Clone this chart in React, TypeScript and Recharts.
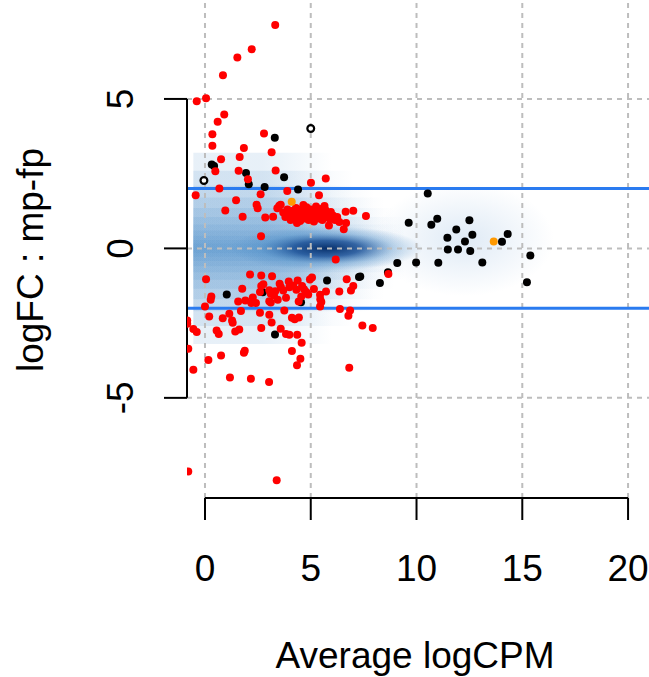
import { ScatterChart, Scatter, XAxis, YAxis, ReferenceLine, ReferenceArea, Label } from 'recharts';

// [Average logCPM, logFC]
const redPoints: [number, number][] = [
  [3.32, 7.47], [2.21, 6.66], [1.53, 6.39], [0.85, 5.79], [0.05, 5.02], [-0.39, 4.92],
  [0.91, 4.48], [0.6, 4.24], [0.35, 3.82], [2.79, 3.84], [0.35, 3.43], [1.84, 3.36],
  [3.15, 3.22], [1.64, 3.06], [0.76, 2.98], [0.49, 2.58], [1.59, 2.6], [3.34, 2.61],
  [2.03, 2.31], [5.01, 2.2], [5.71, 2.34], [0.68, 2.0], [3.89, 1.92], [-0.44, 1.78],
  [2.63, 1.81], [5.39, 1.78], [1.47, 1.61], [2.44, 1.46], [2.49, 1.34], [3.51, 1.43],
  [3.42, 1.34], [0.96, 1.27], [1.78, 1.06], [2.85, 1.03], [3.22, 1.06], [2.65, 0.41],
  [6.65, 1.23], [7.01, 1.26], [7.61, 1.08], [5.86, 0.77], [6.56, 0.64], [6.67, 0.85],
  [3.58, 1.46],
  // dense up cluster
  [3.7, 1.2], [3.8, 1.05], [3.9, 1.3], [4.0, 1.1], [4.05, 0.95], [4.1, 1.25], [4.2, 1.15],
  [4.25, 1.0], [4.3, 1.35], [4.4, 1.2], [4.45, 1.05], [4.5, 0.92], [4.55, 1.3], [4.6, 1.15],
  [4.7, 1.0], [4.75, 1.25], [4.8, 1.38], [4.85, 1.1], [4.9, 0.95], [4.95, 1.2], [5.0, 1.3],
  [5.05, 1.05], [5.1, 1.15], [5.15, 0.9], [5.2, 1.25], [5.25, 1.4], [5.3, 1.1], [5.35, 1.0],
  [5.4, 1.2], [5.45, 1.32], [5.5, 1.08], [5.55, 0.95], [5.6, 1.18], [5.7, 1.28], [5.75, 1.05],
  [5.8, 1.15], [5.9, 0.98], [5.95, 1.22], [6.05, 1.1], [6.15, 0.95], [6.25, 1.05], [6.35, 0.88],
  [4.35, 0.85], [4.65, 1.45], [5.65, 1.42],
  // down
  [6.18, -0.37], [0.05, -1.03], [2.13, -0.87], [2.66, -0.91], [3.17, -0.93], [1.76, -1.35],
  [0.3, -1.61], [0.27, -1.72], [1.57, -1.78], [1.91, -1.74], [2.26, -1.64], [2.19, -1.83],
  [2.41, -1.83], [0.0, -1.94], [2.66, -1.26], [2.76, -1.2], [2.6, -1.46], [3.04, -1.4],
  [3.11, -1.52], [3.04, -1.77], [3.11, -1.81], [3.32, -1.43], [3.26, -1.57], [3.44, -1.72],
  [3.53, -1.18], [3.59, -1.3], [3.7, -1.41], [3.96, -1.11], [3.99, -1.3], [3.83, -1.65],
  [4.38, -1.07], [4.32, -1.38], [4.17, -1.24], [4.59, -1.26], [4.68, -1.37], [4.79, -1.46],
  [4.88, -1.54], [4.55, -1.61], [4.43, -1.78], [4.96, -1.04], [5.06, -0.97], [5.15, -1.36],
  [5.44, -1.55], [5.45, -1.7], [5.5, -1.79], [5.44, -1.94], [5.72, -1.44], [6.35, -1.44],
  [6.7, -1.03], [7.01, -1.26], [6.9, -1.41], [8.67, -0.86],
  [0.2, -2.28], [0.84, -2.34], [1.15, -2.19], [1.28, -2.41], [1.31, -2.49], [1.7, -2.09],
  [2.6, -2.15], [3.04, -2.22], [3.15, -2.48], [3.75, -2.08], [4.11, -2.32], [4.24, -2.37],
  [4.44, -2.31], [-0.84, -2.41], [-0.84, -2.52], [-0.55, -2.7], [-0.39, -2.8], [0.55, -2.75],
  [0.65, -2.86], [1.43, -2.78], [1.62, -2.71], [2.66, -2.66], [3.58, -2.69], [3.83, -2.86],
  [3.99, -2.89], [4.36, -2.89], [4.57, -3.16], [6.38, -2.03], [6.86, -2.08], [6.78, -2.25],
  [7.44, -2.58], [7.93, -2.66], [-0.79, -3.36], [0.16, -3.73], [0.76, -3.58], [1.88, -3.42],
  [1.84, -3.49], [4.11, -3.43], [4.51, -3.69], [4.35, -3.91], [-0.55, -4.06], [1.18, -4.32],
  [2.17, -4.36], [3.03, -4.47], [6.82, -3.99], [-0.79, -7.46], [3.39, -7.76],
];

const blackPoints: [number, number][] = [
  [3.3, 3.7], [0.32, 2.81], [0.43, 2.76], [1.94, 2.52], [2.07, 2.15], [2.82, 2.05],
  [3.74, 2.38], [4.4, 1.97], [9.63, 0.86], [9.09, -0.49], [9.98, -0.47], [8.65, -0.8],
  [8.27, -1.16], [7.28, -0.96], [7.34, -0.94], [5.77, -1.07], [1.03, -1.54], [2.73, -1.47],
  [4.54, -1.8], [3.31, -2.88], [10.53, 1.84], [10.7, 0.79], [10.98, 0.99], [12.5, 0.94],
  [11.88, 0.63], [12.64, 0.46], [11.46, 0.36], [12.29, 0.23], [14.31, 0.48], [14.04, 0.22],
  [11.48, -0.04], [11.96, -0.04], [12.54, -0.09], [15.38, -0.24], [11.03, -0.48],
  [13.11, -0.47], [15.22, -1.13],
];

const openPoints: [number, number][] = [[5.0, 4.01], [-0.05, 2.27]];

const orangePoints: [number, number][] = [[4.1, 1.56], [13.65, 0.23]];

const xTicks = [0, 5, 10, 15, 20];
const yTicks = [-5, 0, 5];
const cutoffs = [-2, 2];

// smoothed density of all genes: half height in logFC, right end in logCPM
const densityBands: [number, number][] = [
  [3.2, 6], [2.6, 7], [2.1, 8], [1.7, 8.5], [1.35, 9], [1.05, 9.5],
  [0.8, 9.5], [0.6, 9.5], [0.42, 9], [0.28, 8.5], [0.16, 8],
];

const toXY = (pts: [number, number][]) => pts.map(([x, y]) => ({ x, y }));

const FONT = '"Liberation Sans", Arial, sans-serif';

const dot = (fill: string, r = 4) => (props: any) => (
  <circle cx={props.cx} cy={props.cy} r={r} fill={fill} />
);

const openDot = (props: any) => (
  <circle cx={props.cx} cy={props.cy} r={3.4} fill="#fff" stroke="#000" strokeWidth={2.2} />
);

const YTick = (props: any) => {
  const { x, y, payload } = props;
  return (
    <text
      x={x}
      y={y}
      transform={`rotate(-90 ${x} ${y})`}
      textAnchor="middle"
      fontSize={37}
      fontFamily={FONT}
      fill="#000"
    >
      {payload.value}
    </text>
  );
};

export default function App() {
  return (
    <div style={{ position: 'absolute', left: 0, top: 0, background: '#fff' }}>
      <ScatterChart width={649} height={677} margin={{ top: 0, right: 0, bottom: 0, left: 0 }}>
        <defs>
          <linearGradient id="band" x1="0" y1="0" x2="1" y2="0">
            <stop offset="0" stopColor="#4a8cc8" stopOpacity={1} />
            <stop offset="0.5" stopColor="#4a8cc8" stopOpacity={1} />
            <stop offset="1" stopColor="#4a8cc8" stopOpacity={0} />
          </linearGradient>
          <radialGradient id="core" cx="0.5" cy="0.5" r="0.5">
            <stop offset="0" stopColor="#08306b" stopOpacity={1} />
            <stop offset="0.35" stopColor="#1b5096" stopOpacity={0.85} />
            <stop offset="0.7" stopColor="#4a8bc6" stopOpacity={0.35} />
            <stop offset="1" stopColor="#4a8bc6" stopOpacity={0} />
          </radialGradient>
          <radialGradient id="tail" cx="0.5" cy="0.5" r="0.5">
            <stop offset="0" stopColor="#c9dcef" stopOpacity={0.6} />
            <stop offset="1" stopColor="#c9dcef" stopOpacity={0} />
          </radialGradient>
        </defs>

        <XAxis
          type="number"
          dataKey="x"
          domain={[-0.85, 20.99]}
          allowDataOverflow
          ticks={xTicks}
          axisLine={false}
          tickSize={22}
          tickMargin={35}
          tickLine={{ stroke: '#000', strokeWidth: 2 }}
          tick={{ fontSize: 37, fill: '#000', fontFamily: FONT }}
          height={179}
        >
          <Label
            content={(p: any) => (
              <text
                x={p.viewBox.x + p.viewBox.width / 2 - 3}
                y={p.viewBox.y + p.viewBox.height - 9}
                textAnchor="middle"
                fontSize={37}
                fontFamily={FONT}
                fill="#000"
              >
                Average logCPM
              </text>
            )}
          />
        </XAxis>
        <YAxis
          type="number"
          dataKey="y"
          domain={[-8.35, 8.31]}
          allowDataOverflow
          ticks={yTicks}
          axisLine={false}
          tickSize={23}
          tickMargin={31}
          tickLine={{ stroke: '#000', strokeWidth: 2 }}
          tick={<YTick />}
          width={187}
        >
          <Label
            content={(p: any) => {
              const x = p.viewBox.x + 43;
              const y = p.viewBox.y + p.viewBox.height / 2 + 11;
              return (
                <text
                  x={x}
                  y={y}
                  transform={`rotate(-90 ${x} ${y})`}
                  textAnchor="middle"
                  fontSize={37}
                  fontFamily={FONT}
                  fill="#000"
                >
                  logFC : mp-fp
                </text>
              );
            }}
          />
        </YAxis>

        {densityBands.map(([h, xEnd], i) => (
          <ReferenceArea
            key={`d${i}`}
            x1={-0.55}
            x2={xEnd}
            y1={-h}
            y2={h}
            fill="url(#band)"
            fillOpacity={0.13}
            stroke="none"
          />
        ))}
        <ReferenceArea x1={8} x2={16.5} y1={-1.6} y2={2.2} fill="url(#tail)" fillOpacity={1} stroke="none" />
        <ReferenceArea x1={1.2} x2={10.3} y1={-0.75} y2={0.75} fill="url(#core)" fillOpacity={1} stroke="none" />

        {xTicks.map((t) => (
          <ReferenceLine key={`gx${t}`} x={t} stroke="#bdbdbd" strokeWidth={2} strokeDasharray="5 5" />
        ))}
        {yTicks.map((t) => (
          <ReferenceLine key={`gy${t}`} y={t} stroke="#bdbdbd" strokeWidth={2} strokeDasharray="5 5" />
        ))}
        {cutoffs.map((t) => (
          <ReferenceLine key={`c${t}`} y={t} stroke="#2a7bf0" strokeWidth={3} />
        ))}

        <ReferenceLine
          segment={[{ x: 0, y: -8.35 }, { x: 20, y: -8.35 }]}
          stroke="#000"
          strokeWidth={2}
        />
        <ReferenceLine
          segment={[{ x: -0.85, y: -5 }, { x: -0.85, y: 5 }]}
          stroke="#000"
          strokeWidth={2}
        />

        <Scatter data={toXY(blackPoints)} shape={dot('#000')} isAnimationActive={false} />
        <Scatter data={toXY(openPoints)} shape={openDot} isAnimationActive={false} />
        <Scatter data={toXY(redPoints)} shape={dot('#ff0000')} isAnimationActive={false} />
        <Scatter data={toXY(orangePoints)} shape={dot('#ff9900')} isAnimationActive={false} />
      </ScatterChart>
    </div>
  );
}
